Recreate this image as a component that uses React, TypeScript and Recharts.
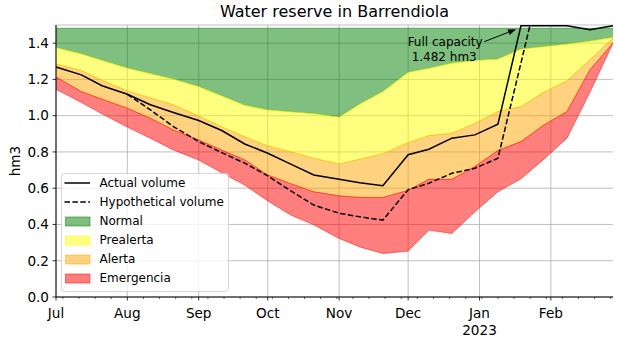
import React from "react";
import {
  ComposedChart,
  Area,
  Line,
  XAxis,
  YAxis,
  CartesianGrid,
  Legend,
  Label,
  ReferenceDot,
} from "recharts";

const FONT = "'DejaVu Sans', Verdana, sans-serif";

/* ---------- data (hm3) ---------- */

const dates = [
  "2022-07-01", "2022-07-12", "2022-07-21", "2022-08-01", "2022-08-11",
  "2022-08-21", "2022-09-01", "2022-09-11", "2022-09-21", "2022-10-01",
  "2022-10-11", "2022-10-21", "2022-11-01", "2022-11-10", "2022-11-20",
  "2022-12-01", "2022-12-10", "2022-12-20", "2022-12-30", "2023-01-09",
  "2023-01-19", "2023-01-29", "2023-02-08", "2023-02-18", "2023-02-28",
];

const actualVolume = [
  1.268, 1.225, 1.165, 1.118, 1.06, 1.017, 0.973, 0.918, 0.844, 0.793,
  0.733, 0.673, 0.649, 0.63, 0.614, 0.785, 0.815, 0.876, 0.894, 0.953,
  1.496, 1.496, 1.496, 1.474, 1.496,
];

const hypotheticalVolume: (number | null)[] = [
  null, null, null, 1.118, 1.032, 0.94, 0.857, 0.796, 0.738, 0.668,
  0.585, 0.507, 0.462, 0.442, 0.424, 0.592, 0.627, 0.682, 0.71, 0.765,
  1.29, 1.82, null, null, null,
];

// lower limit of each state
const normalFloor = [
  1.376, 1.342, 1.305, 1.263, 1.232, 1.202, 1.161, 1.11, 1.058, 1.032,
  1.022, 1.012, 0.992, 1.065, 1.133, 1.24, 1.262, 1.29, 1.305, 1.312,
  1.368, 1.382, 1.395, 1.412, 1.432,
];
const prealertaFloor = [
  1.285, 1.249, 1.195, 1.137, 1.098, 1.06, 0.998, 0.938, 0.884, 0.833,
  0.801, 0.765, 0.734, 0.76, 0.79, 0.851, 0.89, 0.903, 0.958, 1.023,
  1.05, 1.13, 1.192, 1.308, 1.428,
];
const alertaFloor = [
  1.213, 1.133, 1.091, 1.041, 0.986, 0.921, 0.866, 0.81, 0.756, 0.673,
  0.625, 0.58, 0.558, 0.549, 0.549, 0.588, 0.649, 0.649, 0.72, 0.808,
  0.857, 0.949, 1.023, 1.253, 1.401,
];
const emergenciaFloor = [
  1.146, 1.073, 1.01, 0.937, 0.875, 0.811, 0.756, 0.685, 0.617, 0.53,
  0.452, 0.398, 0.323, 0.276, 0.24, 0.253, 0.369, 0.35, 0.47, 0.58,
  0.652, 0.76, 0.876, 1.13, 1.4,
];

const fullCapacity = 1.482;
const capacityNoteDate = "2023-01-18";

const monthTicks = [
  "2022-07-01", "2022-08-01", "2022-09-01", "2022-10-01",
  "2022-11-01", "2022-12-01", "2023-01-01", "2023-02-01",
];
const monthLabels = ["Jul", "Aug", "Sep", "Oct", "Nov", "Dec", "Jan", "Feb"];
const yearLabels = ["", "", "", "", "", "", "2023", ""];
const yTicks = [0, 0.2, 0.4, 0.6, 0.8, 1.0, 1.2, 1.4];

const COLORS = {
  normal: "#008000",
  prealerta: "#ffff00",
  alerta: "#ffa500",
  emergencia: "#ff0000",
};

/* ---------- derived ---------- */

const ts = (d: string) => Date.parse(d);
const DAY = 86400000;
const xStart = ts(dates[0]);
const xEnd = ts(dates[dates.length - 1]);
const monthTs = monthTicks.map(ts);

// weekly minor ticks (Mondays)
const mondayTs: number[] = [];
for (let t = ts("2022-07-04"); t <= xEnd; t += 7 * DAY) mondayTs.push(t);
const allTicks = Array.from(new Set([...monthTs, ...mondayTs])).sort((a, b) => a - b);

const rows = dates.map((d, i) => ({
  t: ts(d),
  actual: actualVolume[i],
  hypo: hypotheticalVolume[i],
  normal: [normalFloor[i], fullCapacity],
  prealerta: [prealertaFloor[i], normalFloor[i]],
  alerta: [alertaFloor[i], prealertaFloor[i]],
  emergencia: [emergenciaFloor[i], alertaFloor[i]],
}));

/* ---------- pieces ---------- */

function DateTick(props: any) {
  const { x, y, payload } = props;
  const idx = monthTs.indexOf(payload.value);
  if (idx < 0) {
    return <line x1={x} x2={x} y1={y} y2={y + 2} stroke="#000" strokeWidth={0.6} />;
  }
  return (
    <g>
      <line x1={x} x2={x} y1={y} y2={y + 3.5} stroke="#000" strokeWidth={0.8} />
      <text x={x} y={y + 21} textAnchor="middle" fontSize={13.6} fontFamily={FONT} fill="#000">
        {monthLabels[idx]}
      </text>
      {yearLabels[idx] && (
        <text x={x} y={y + 38} textAnchor="middle" fontSize={13.6} fontFamily={FONT} fill="#000">
          {yearLabels[idx]}
        </text>
      )}
    </g>
  );
}

function CapacityNote(props: any) {
  const { cx, cy } = props;
  const tipX = cx - 2.6;
  const tipY = cy + 1;
  const tailX = cx - 34.3;
  const tailY = cy + 13.4;
  const dx = tipX - tailX;
  const dy = tipY - tailY;
  const len = Math.hypot(dx, dy);
  const ux = dx / len;
  const uy = dy / len;
  const hl = 8;
  const hw = 3;
  const bx = tipX - ux * hl;
  const by = tipY - uy * hl;
  return (
    <g>
      <line x1={tailX} y1={tailY} x2={bx} y2={by} stroke="#000" strokeWidth={1} />
      <polygon
        points={`${tipX},${tipY} ${bx - uy * hw},${by + ux * hw} ${bx + uy * hw},${by - ux * hw}`}
        fill="#000"
      />
      <text x={cx - 111} y={cy + 17.7} fontSize={12} fontFamily={FONT} fill="#000">
        Full capacity
      </text>
      <text x={cx - 107} y={cy + 32.7} fontSize={12} fontFamily={FONT} fill="#000">
        1.482 hm3
      </text>
    </g>
  );
}

const legendRows = [
  { label: "Actual volume", kind: "line" },
  { label: "Hypothetical volume", kind: "dash" },
  { label: "Normal", color: COLORS.normal },
  { label: "Prealerta", color: COLORS.prealerta },
  { label: "Alerta", color: COLORS.alerta },
  { label: "Emergencia", color: COLORS.emergencia },
];

function LegendBox() {
  return (
    <svg width={168} height={119} style={{ display: "block" }}>
      <rect
        x={0.5}
        y={0.5}
        width={167}
        height={118}
        rx={3}
        fill="#fff"
        fillOpacity={0.8}
        stroke="#cccccc"
        strokeOpacity={0.8}
      />
      {legendRows.map((r, i) => {
        const cy = 10 + 19 * i;
        return (
          <g key={r.label}>
            {r.kind === "line" && (
              <line x1={3.5} x2={29} y1={cy} y2={cy} stroke="#000" strokeWidth={1.5} />
            )}
            {r.kind === "dash" && (
              <line
                x1={3.5}
                x2={29}
                y1={cy}
                y2={cy}
                stroke="#000"
                strokeWidth={1.5}
                strokeDasharray="5.5 2.4"
              />
            )}
            {r.color && (
              <rect
                x={4.5}
                y={cy - 4}
                width={24.5}
                height={9}
                fill={r.color}
                fillOpacity={0.5}
                stroke={r.color}
                strokeOpacity={0.5}
              />
            )}
            <text x={38.5} y={cy + 4.4} fontSize={12} fontFamily={FONT} fill="#000">
              {r.label}
            </text>
          </g>
        );
      })}
    </svg>
  );
}

function band(key: string, color: string) {
  return (
    <Area
      key={key}
      type="linear"
      dataKey={key}
      fill={color}
      fillOpacity={0.5}
      stroke={color}
      strokeOpacity={0.5}
      strokeWidth={1}
      activeDot={false}
      isAnimationActive={false}
    />
  );
}

/* ---------- chart ---------- */

export default function App() {
  return (
    <div
      style={{
        position: "absolute",
        left: 0,
        top: 0,
        width: 620,
        height: 341,
        background: "#fff",
        fontFamily: FONT,
      }}
    >
      <div
        style={{
          position: "absolute",
          left: 56,
          top: 2,
          width: 557,
          textAlign: "center",
          fontSize: 16,
          lineHeight: "20px",
          color: "#000",
          zIndex: 2,
        }}
      >
        Water reserve in Barrendiola
      </div>
      <ComposedChart
        width={620}
        height={341}
        data={rows}
        margin={{ top: 25, right: 7, bottom: 4, left: 0 }}
      >
        <CartesianGrid stroke="#b0b0b0" strokeWidth={0.8} verticalValues={monthTs} />
        <XAxis
          dataKey="t"
          type="number"
          scale="linear"
          domain={[xStart, xEnd]}
          ticks={allTicks}
          interval={0}
          tick={<DateTick />}
          tickLine={false}
          tickSize={0}
          tickMargin={0}
          height={40}
          stroke="#000"
          axisLine={{ stroke: "#000", strokeWidth: 1 }}
        />
        <YAxis
          type="number"
          domain={[0, 1.5]}
          allowDataOverflow
          ticks={yTicks}
          width={56}
          tickSize={3.5}
          tickMargin={3.5}
          stroke="#000"
          axisLine={{ stroke: "#000", strokeWidth: 1 }}
          tickLine={{ stroke: "#000", strokeWidth: 0.8 }}
          tick={{ fontSize: 13.6, fill: "#000", fontFamily: FONT }}
          tickFormatter={(v: number) => v.toFixed(1)}
        >
          <Label
            content={(p: any) => {
              const vb = p.viewBox || { x: 0, y: 25, width: 56, height: 272 };
              const cx = 15;
              const cy = vb.y + vb.height / 2;
              return (
                <text
                  x={cx}
                  y={cy}
                  transform={`rotate(-90, ${cx}, ${cy})`}
                  textAnchor="middle"
                  dominantBaseline="central"
                  fontSize={13.6}
                  fontFamily={FONT}
                  fill="#000"
                >
                  hm3
                </text>
              );
            }}
          />
        </YAxis>
        {band("normal", COLORS.normal)}
        {band("prealerta", COLORS.prealerta)}
        {band("alerta", COLORS.alerta)}
        {band("emergencia", COLORS.emergencia)}
        <Line
          type="linear"
          dataKey="actual"
          stroke="#000"
          strokeWidth={1.5}
          dot={false}
          activeDot={false}
          isAnimationActive={false}
        />
        <Line
          type="linear"
          dataKey="hypo"
          stroke="#000"
          strokeWidth={1.5}
          strokeDasharray="5.5 2.4"
          dot={false}
          activeDot={false}
          isAnimationActive={false}
        />
        <ReferenceDot
          x={ts(capacityNoteDate)}
          y={fullCapacity}
          r={0}
          shape={(p: any) => <CapacityNote {...p} />}
        />
        <Legend
          layout="vertical"
          align="center"
          verticalAlign="middle"
          content={() => <LegendBox />}
          wrapperStyle={{ left: 61, top: 173, width: 168, height: 119 }}
        />
      </ComposedChart>
    </div>
  );
}
